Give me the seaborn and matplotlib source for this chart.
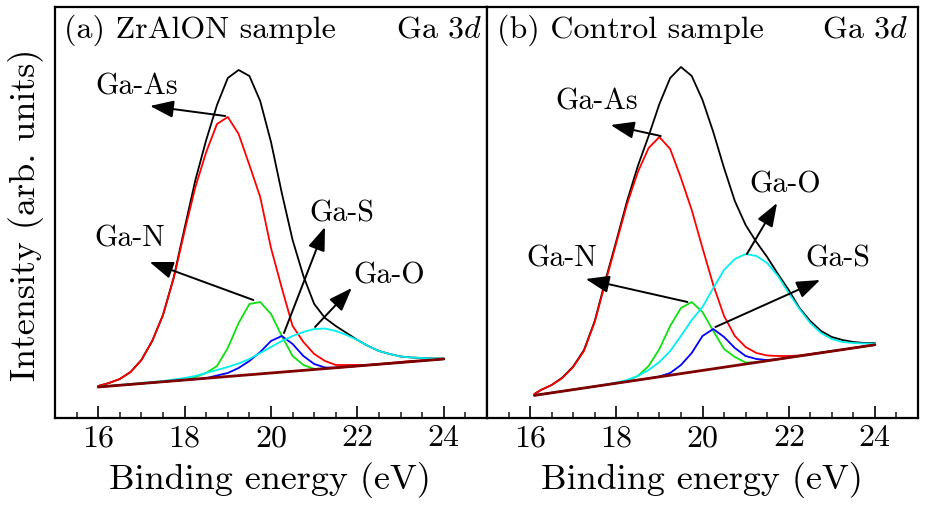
import numpy as np
import pandas as pd
import matplotlib
matplotlib.use("Agg")
import matplotlib.pyplot as plt
from matplotlib.ticker import MultipleLocator
import seaborn as sns

# ---------------- data ----------------
# energies (eV)
x_a = [16.0, 16.25, 16.5, 16.75, 17.0, 17.25, 17.5, 17.75, 18.0, 18.25, 18.5, 18.75,
       19.0, 19.25, 19.5, 19.75, 20.0, 20.25, 20.5, 20.75, 21.0, 21.25, 21.5, 21.75,
       22.0, 22.25, 22.5, 22.75, 23.0, 23.25, 23.5, 23.75, 24.0]
x_b = [16.1] + x_a[1:]

# (a) ZrAlON sample  (intensity, arb. units)
a_base_x = [16.0, 24.0]
a_base_y = [31, 59]
a_total = [32, 35, 39, 46, 58, 77, 103, 141, 190, 238, 278, 313, 340, 348, 342, 317, 276,
           225, 178, 142, 114, 100, 92, 85, 78, 72, 67, 64, 61.5, 60.5, 60, 59.5, 59.5]
a_GaAs = [32, 35, 39, 46, 58, 77, 103, 140, 187, 231, 266, 294, 301, 284, 253, 221, 170,
          130, 92, 76, 64, 57, 53, 53, 53, 53.2, 54, 55, 56, 57, 57.5, 58.5, 59]
a_GaN = [31, 31.9, 32.8, 33.6, 34.5, 35.4, 36.3, 37.1, 38, 41, 45, 52, 70, 95, 114, 116,
         104, 82, 62, 53, 49, 49.4, 50.3, 51.1, 52, 52.9, 53.8, 54.6, 55.5, 56.4, 57.3, 58.1, 59]
a_GaS = [31, 31.9, 32.8, 33.6, 34.5, 35.4, 36.3, 37.1, 38, 38.9, 39.8, 42.5, 45, 50, 57, 66,
         77, 82, 74, 62, 54, 50.5, 50.3, 51.1, 52, 52.9, 53.8, 54.6, 55.5, 56.4, 57.3, 58.1, 59]
a_GaO = [31, 32, 33, 34, 35, 36, 37, 38.5, 40, 42, 45, 48, 51, 54.5, 59, 65, 71, 77, 82, 86,
         89, 89.5, 87, 83, 78, 72, 67, 64, 61.5, 60.5, 60, 59.5, 59.5]

# (b) Control sample
b_base_x = [16.1, 24.0]
b_base_y = [22.6, 73.2]
b_total = [24, 28, 33, 40.5, 51.5, 68, 97, 138, 177, 217, 252, 282, 314, 340, 351, 342, 318,
           286, 250, 217, 193, 176, 161, 144, 128, 110, 97, 87, 81, 78, 76, 75, 75]
b_GaAs = [24, 28, 33, 40, 51, 67, 96, 136, 175, 214, 246, 270, 281, 269, 240, 208, 170,
          133, 102, 82, 71, 65, 62.5, 62, 62, 62.5, 64, 65.5, 67, 68.5, 70, 71.6, 73.2]
b_GaN = [22.6, 23.6, 25.2, 26.8, 28.4, 30, 31.6, 33.2, 34.8, 37, 42, 52, 69, 92, 110, 116,
         106, 87, 69, 61, 55.5, 55.6, 57.2, 58.8, 60.4, 62, 63.6, 65.2, 66.8, 68.4, 70, 71.6, 73.2]
b_GaS = [22.6, 23.6, 25.2, 26.8, 28.4, 30, 31.6, 33.2, 34.8, 36.4, 38, 39.6, 41.5, 45, 53,
         65, 82, 89, 81, 70, 62, 59, 58, 58.8, 60.4, 62, 63.6, 65.2, 66.8, 68.4, 70, 71.6, 73.2]
b_GaO = [22.6, 23.6, 25.2, 26.8, 28.4, 30, 31.6, 33.4, 35.5, 38, 42, 48, 56, 67, 82, 98,
         111, 130, 148, 159, 164, 162, 155, 142, 125, 109, 95, 85, 79, 76, 75, 74.5, 74.5]

xticks = [16, 18, 20, 22, 24]
panel_titles = ["(a) ZrAlON sample", "(b) Control sample"]
core_level = "Ga $3d$"
x_label = "Binding energy (eV)"
y_label = "Intensity (arb. units)"

# ---------------- style ----------------
sns.set_theme(style="white")
plt.rcParams["font.family"] = ["cmr10", "DejaVu Serif"]
plt.rcParams["mathtext.fontset"] = "cm"
plt.rcParams["axes.formatter.use_mathtext"] = True
plt.rcParams["axes.unicode_minus"] = False

C_TOTAL = "black"
C_AS = "#ff0000"
C_N = "#10e010"
C_S = "#0000ff"
C_O = "#00f0f0"
C_BASE = "#800000"

fig = plt.figure(figsize=(9.26, 5.05), dpi=100)
ax_a = fig.add_axes([0.05940, 0.17228, 0.46652, 0.81386])
ax_b = fig.add_axes([0.52592, 0.17228, 0.46544, 0.81386])


def draw_panel(ax, x, base_x, base_y, total, gaas, gan, gas, gao):
    df = pd.DataFrame({"E": x, "total": total, "GaAs": gaas, "GaN": gan,
                       "GaS": gas, "GaO": gao})
    sns.lineplot(data=df, x="E", y="total", color=C_TOTAL, lw=1.3, ax=ax)
    for col, c in [("GaAs", C_AS), ("GaN", C_N), ("GaS", C_S), ("GaO", C_O)]:
        sns.lineplot(data=df, x="E", y=col, color=c, lw=1.3, ax=ax)
    sns.lineplot(x=base_x, y=base_y, color=C_BASE, lw=2.0, ax=ax)


draw_panel(ax_a, x_a, a_base_x, a_base_y, a_total, a_GaAs, a_GaN, a_GaS, a_GaO)
draw_panel(ax_b, x_b, b_base_x, b_base_y, b_total, b_GaAs, b_GaN, b_GaS, b_GaO)

for ax, title, tx, gx in [(ax_a, panel_titles[0], 0.021, 0.988),
                          (ax_b, panel_titles[1], 0.0225, 0.977)]:
    ax.set_xlim(15, 25)
    ax.set_ylim(0, 411)
    ax.set_yticks([])
    ax.set_xticks(xticks)
    ax.xaxis.set_minor_locator(MultipleLocator(0.5))
    ax.tick_params(axis="x", which="major", direction="in", length=9, width=1.2,
                   labelsize=23, pad=5, bottom=True, top=False, colors="black")
    ax.tick_params(axis="x", which="minor", direction="in", length=4.3, width=1.2,
                   bottom=True, top=False)
    for s in ax.spines.values():
        s.set_visible(True)
        s.set_color("black")
        s.set_linewidth(1.6)
    ax.set_xlabel(x_label, fontsize=26, va="baseline", color="black")
    ax.set_ylabel("")
    ax.text(tx, 0.925, title, transform=ax.transAxes, fontsize=23,
            ha="left", va="baseline", color="black")
    ax.text(gx, 0.925, core_level, transform=ax.transAxes, fontsize=23,
            ha="right", va="baseline", color="black")

ax_a.xaxis.set_label_coords(0.497, -0.173)
ax_b.xaxis.set_label_coords(0.498, -0.173)
ax_a.set_ylabel(y_label, fontsize=26, color="black")
ax_a.yaxis.set_label_coords(-0.025, 0.494)

arrow_kw = dict(arrowstyle="-|>,head_length=0.9,head_width=0.33", color="black",
                lw=1.4, shrinkA=0, shrinkB=0, mutation_scale=16)

# (label, text position, arrow tail, arrow head)
ann_a = [("Ga-As", (16.9, 323), (18.94, 302), (17.2, 312)),
         ("Ga-N", (16.74, 171), (19.59, 118), (17.19, 156)),
         ("Ga-S", (21.65, 196), (20.3, 85), (21.25, 191)),
         ("Ga-O", (22.74, 134), (21.02, 91), (21.87, 130))]
ann_b = [("Ga-As", (17.54, 308), (19.03, 282), (17.87, 293)),
         ("Ga-N", (16.74, 151.5), (19.65, 116), (17.29, 139)),
         ("Ga-O", (21.92, 225), (21.03, 164), (21.73, 215)),
         ("Ga-S", (23.13, 151.5), (20.3, 91), (22.73, 138))]

for ax, anns in [(ax_a, ann_a), (ax_b, ann_b)]:
    for lab, tpos, tail, head in anns:
        ax.annotate("", xy=head, xytext=tail, xycoords="data", textcoords="data",
                    arrowprops=arrow_kw)
        ax.text(tpos[0], tpos[1], lab, fontsize=21.5, ha="center", va="baseline",
                color="black")

fig.savefig("out.png", dpi=100, facecolor="white")
